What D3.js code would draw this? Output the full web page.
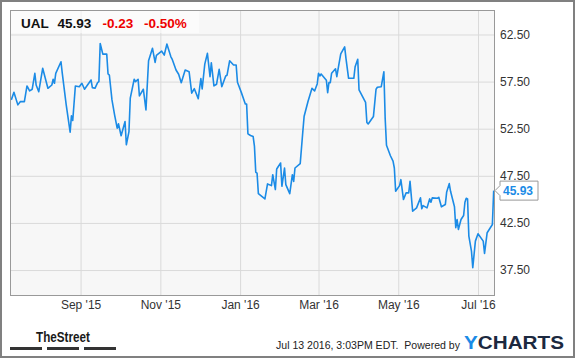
<!DOCTYPE html>
<html>
<head>
  <meta charset="utf-8">
  <title>UAL 1 year</title>
  <script src="https://d3js.org/d3.v7.min.js"></script>
  <style>
    body { margin: 0; background: #fff; }
    svg text { font-family: "Liberation Sans", Arial, sans-serif; }
    .gridlines line { stroke: #dadada; }
    .gridlines .domain { stroke: none; }
    .axis text { fill: #333; font-size: 12px; }
  </style>
</head>
<body>
<svg id="chart" width="575" height="358"></svg>

<script>
// values
const priceDates = [
  "2015-07-10","2015-07-12","2015-07-15","2015-07-17","2015-07-20","2015-07-22","2015-07-24","2015-07-26","2015-07-28","2015-07-29",
  "2015-07-31","2015-08-03","2015-08-07","2015-08-10","2015-08-11","2015-08-12","2015-08-13","2015-08-17","2015-08-18","2015-08-21",
  "2015-08-24","2015-08-25","2015-08-26","2015-08-28","2015-08-31","2015-09-02","2015-09-04","2015-09-09","2015-09-10","2015-09-12",
  "2015-09-14","2015-09-15","2015-09-16","2015-09-18","2015-09-21","2015-09-22","2015-09-23","2015-09-25","2015-09-27","2015-09-29",
  "2015-09-30","2015-10-02","2015-10-05","2015-10-06","2015-10-08","2015-10-09","2015-10-12","2015-10-13","2015-10-15","2015-10-16",
  "2015-10-19","2015-10-21","2015-10-23","2015-10-26","2015-10-28","2015-10-29","2015-11-02","2015-11-04","2015-11-06","2015-11-09",
  "2015-11-10","2015-11-13","2015-11-15","2015-11-17","2015-11-20","2015-11-23","2015-11-25","2015-11-27","2015-11-30","2015-12-02",
  "2015-12-03","2015-12-05","2015-12-07","2015-12-09","2015-12-10","2015-12-12","2015-12-14","2015-12-16","2015-12-18","2015-12-21",
  "2015-12-22","2015-12-24","2015-12-27","2015-12-29","2015-12-30","2016-01-02","2016-01-05","2016-01-06","2016-01-07","2016-01-09",
  "2016-01-11","2016-01-12","2016-01-13","2016-01-14","2016-01-15","2016-01-20","2016-01-22","2016-01-25","2016-01-26","2016-01-28",
  "2016-01-29","2016-02-01","2016-02-02","2016-02-04","2016-02-05","2016-02-08","2016-02-10","2016-02-11","2016-02-12","2016-02-16",
  "2016-02-18","2016-02-19","2016-02-22","2016-02-25","2016-02-27","2016-02-29","2016-03-01","2016-03-02","2016-03-03","2016-03-07",
  "2016-03-08","2016-03-09","2016-03-10","2016-03-11","2016-03-14","2016-03-15","2016-03-16","2016-03-18","2016-03-21","2016-03-22",
  "2016-03-24","2016-03-28","2016-03-29","2016-03-31","2016-04-01","2016-04-06","2016-04-07","2016-04-08","2016-04-12","2016-04-14",
  "2016-04-15","2016-04-18","2016-04-20","2016-04-21","2016-04-22","2016-04-25","2016-04-27","2016-04-28","2016-04-29","2016-05-02",
  "2016-05-03","2016-05-05","2016-05-07","2016-05-09","2016-05-10","2016-05-12","2016-05-15","2016-05-18","2016-05-19","2016-05-20",
  "2016-05-23","2016-05-25","2016-05-26","2016-05-27","2016-05-31","2016-06-01","2016-06-03","2016-06-06","2016-06-07","2016-06-09",
  "2016-06-10","2016-06-13","2016-06-14","2016-06-15","2016-06-16","2016-06-18","2016-06-20","2016-06-21","2016-06-22","2016-06-23",
  "2016-06-24","2016-06-26","2016-06-27","2016-06-29","2016-07-01","2016-07-05","2016-07-06","2016-07-08","2016-07-12","2016-07-13"
];
const prices = [
  55.56,56.37,55.03,55.38,55.38,57.04,56.51,56.69,58.38,57.14,
  56.43,58.91,56.79,57.14,57.75,57.32,58.38,59.61,58.38,55.03,
  52.14,53.86,53.37,57.04,56.96,57.32,56.69,57.67,56.86,56.79,
  57.39,57.49,61.55,60.42,60.42,58.31,58.20,55.56,53.97,52.56,
  53.02,51.75,53.26,50.80,52.20,55.74,57.75,57.49,57.75,55.98,
  56.69,54.50,59.71,61.03,59.54,60.29,60.74,60.32,61.48,60.16,
  59.89,58.73,58.28,57.39,58.73,58.55,56.27,56.75,55.69,57.83,
  56.72,59.36,60.50,58.02,59.50,57.04,57.22,58.80,56.96,58.10,
  58.17,59.71,59.26,59.26,57.43,56.33,55.13,55.13,51.96,51.78,
  51.67,50.62,47.87,47.78,45.61,45.05,46.64,46.46,47.62,46.04,
  48.23,48.86,46.39,48.33,46.57,45.61,47.62,46.91,48.33,48.79,
  52.20,53.83,55.42,56.79,56.51,57.25,58.38,58.10,58.31,57.64,
  56.33,57.41,57.39,58.38,58.86,58.02,58.86,60.44,61.19,59.97,
  57.85,57.85,59.08,59.87,56.61,55.29,53.16,53.00,53.79,56.69,
  56.90,56.96,58.55,53.55,50.74,49.63,49.05,48.33,45.86,46.46,
  47.09,44.98,45.69,45.69,46.91,43.74,44.10,45.16,44.00,44.34,
  44.10,45.05,44.69,45.16,45.12,45.22,44.21,44.45,45.75,46.67,
  45.86,44.21,41.99,42.86,41.81,42.86,43.29,44.69,45.12,45.05,
  41.10,39.51,37.75,40.57,41.35,40.57,39.27,41.46,42.33,45.93
];

const yTicks = [37.5, 42.5, 47.5, 52.5, 57.5, 62.5];
const xTickDates = ["2015-09-01","2015-11-01","2016-01-01","2016-03-01","2016-05-01","2016-07-01"];
const dateRange = ["2015-07-09","2016-07-14"];
const priceRange = [34.85, 65.1];

const ticker = "UAL";
const lastPrice = "45.93";
const change = "-0.23";
const changePct = "-0.50%";
const stamp = "Jul 13 2016, 3:03PM EDT.\u00a0 Powered by";

const parse = d3.timeParse("%Y-%m-%d");
const data = priceDates.map((d, i) => ({ date: parse(d), price: prices[i] }));

const svg = d3.select("svg#chart");
const width = svg.attr("width");
const height = svg.attr("height");
const margin = { top: 10, right: 80, bottom: 63, left: 10 };
const chartWidth = width - margin.left - margin.right;
const chartHeight = height - margin.top - margin.bottom;

// outer frame
svg.append("rect")
   .attr("x", 1).attr("y", 1)
   .attr("width", width - 2).attr("height", height - 2)
   .attr("fill", "#fff")
   .attr("stroke", "#808080")
   .attr("stroke-width", 2);

// plot background
svg.append("rect")
   .attr("x", margin.left).attr("y", margin.top)
   .attr("width", chartWidth).attr("height", chartHeight)
   .attr("fill", "#f7f7f7");

const xScale = d3.scaleTime()
                 .domain(dateRange.map(parse))
                 .range([margin.left, margin.left + chartWidth]);
const yScale = d3.scaleLinear()
                 .domain(priceRange)
                 .range([margin.top + chartHeight, margin.top]);

// gridlines
let leftGridlines = d3.axisRight(yScale)
                      .tickValues(yTicks)
                      .tickFormat("")
                      .tickSize(-chartWidth);
svg.append("g").attr("class", "y gridlines")
   .attr("transform", `translate(${margin.left + chartWidth},0)`)
   .call(leftGridlines);

let bottomGridlines = d3.axisBottom(xScale)
                        .tickValues(xTickDates.map(parse))
                        .tickFormat("")
                        .tickSize(-chartHeight);
svg.append("g").attr("class", "x gridlines")
   .attr("transform", `translate(0,${margin.top + chartHeight})`)
   .call(bottomGridlines);

// header box over the plot
svg.append("rect")
   .attr("x", margin.left).attr("y", margin.top)
   .attr("width", 189).attr("height", 23)
   .attr("fill", "#fff").attr("opacity", 0.55);

// axes labels
let rightAxis = d3.axisRight(yScale)
                  .tickValues(yTicks)
                  .tickFormat(d3.format(".2f"))
                  .tickSize(0)
                  .tickPadding(5);
svg.append("g").attr("class", "y axis")
   .attr("transform", `translate(${margin.left + chartWidth},0)`)
   .call(rightAxis)
   .call(g => g.select(".domain").remove());

let bottomAxis = d3.axisBottom(xScale)
                   .tickValues(xTickDates.map(parse))
                   .tickFormat(d3.timeFormat("%b '%y"))
                   .tickSize(0)
                   .tickPadding(5);
svg.append("g").attr("class", "x axis")
   .attr("transform", `translate(0,${margin.top + chartHeight})`)
   .call(bottomAxis)
   .call(g => g.select(".domain").remove());

// price line
const line = d3.line()
               .x(d => xScale(d.date))
               .y(d => yScale(d.price));
svg.append("path")
   .datum(data)
   .attr("d", line)
   .attr("fill", "none")
   .attr("stroke", "#1b8be6")
   .attr("stroke-width", 1.6)
   .attr("stroke-linejoin", "round");

// plot border
svg.append("rect")
   .attr("x", margin.left + 0.5).attr("y", margin.top + 0.5)
   .attr("width", chartWidth - 1).attr("height", chartHeight)
   .attr("fill", "none")
   .attr("stroke", "#999");

// last price tag
const last = data[data.length - 1];
const tipX = margin.left + chartWidth;
const tipY = yScale(last.price);
svg.append("path")
   .attr("d", `M${tipX},${tipY} L${tipX + 5},${tipY - 5} L${tipX + 5},${tipY - 9.5} L${tipX + 43},${tipY - 9.5}
               L${tipX + 43},${tipY + 9.5} L${tipX + 5},${tipY + 9.5} L${tipX + 5},${tipY + 5} Z`)
   .attr("fill", "#fff")
   .attr("stroke", "#999");
svg.append("text")
   .attr("x", tipX + 8).attr("y", tipY + 4.5)
   .attr("font-size", 12).attr("font-weight", "bold")
   .attr("fill", "#1b8be6")
   .text(d3.format(".2f")(last.price));

// header text
const header = svg.append("text")
                  .attr("x", 21).attr("y", 28)
                  .attr("font-size", 13.5).attr("font-weight", "bold");
header.append("tspan").attr("fill", "#111").text(ticker);
header.append("tspan").attr("x", 57.5).attr("fill", "#111").text(lastPrice);
header.append("tspan").attr("x", 102.5).attr("fill", "#ee0000").text(change);
header.append("tspan").attr("x", 144).attr("fill", "#ee0000").text(changePct);

// footer: TheStreet logo
svg.append("text")
   .attr("x", 36).attr("y", 341.5)
   .attr("font-size", 15.5).attr("font-weight", "bold")
   .attr("textLength", 54).attr("lengthAdjust", "spacingAndGlyphs")
   .attr("fill", "#1a1a1a")
   .text("TheStreet");
svg.selectAll("rect.bar")
   .data([10, 47, 84])
   .join("rect")
   .attr("class", "bar")
   .attr("x", d => d).attr("y", 347)
   .attr("width", 32).attr("height", 3)
   .attr("fill", "#333");

// footer: time stamp and YCharts
svg.append("text")
   .attr("x", 276).attr("y", 348.5)
   .attr("font-size", 10.5)
   .attr("textLength", 184).attr("lengthAdjust", "spacingAndGlyphs")
   .attr("fill", "#222")
   .text(stamp);
const yc = svg.append("text")
              .attr("x", 464).attr("y", 348.7)
              .attr("font-size", 18.5).attr("font-weight", "bold")
              .attr("textLength", 100).attr("lengthAdjust", "spacingAndGlyphs");
yc.append("tspan").attr("fill", "#1b8be6").text("Y");
yc.append("tspan").attr("fill", "#1c2940").text("CHARTS");
</script>
</body>
</html>
